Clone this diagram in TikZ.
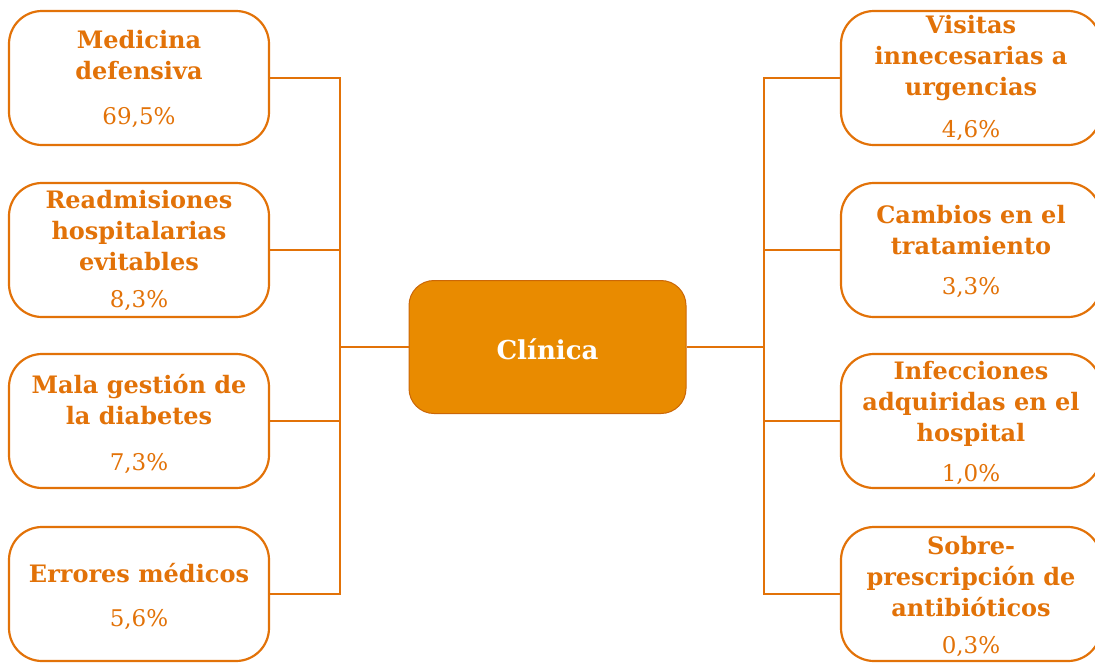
\documentclass[tikz,border=0pt]{standalone}
\usepackage{fontspec}
\setmainfont{DejaVu Serif}
\definecolor{org}{RGB}{226,114,8}
\definecolor{cfill}{RGB}{233,139,0}
\tikzset{
  box/.style={draw=org, line width=2.2pt, rounded corners=33pt, minimum width=260pt, minimum height=134pt, inner sep=0pt},
  ttl/.style={text=org, font=\fontsize{24}{31}\selectfont\bfseries, align=center, inner sep=0pt},
  pct/.style={text=org, font=\fontsize{23}{31}\selectfont, inner sep=0pt},
  conn/.style={draw=org, line width=1.4pt},
}
\begin{document}
\begin{tikzpicture}[x=1pt,y=-1pt]
\useasboundingbox (0,0) rectangle (1095,662);
% center
\node[draw=org!90!black, fill=cfill, line width=1pt, rounded corners=25pt, minimum width=277pt, minimum height=133pt] (C) at (547.5,347) {};
\node[text=white, font=\fontsize{26}{30}\selectfont\bfseries, inner sep=0pt] (Ct) at (547.5,349) {Clínica};
% left boxes
\node[box] (L1) at (139,78) {};
\node[box] (L2) at (139,250) {};
\node[box] (L3) at (139,421) {};
\node[box] (L4) at (139,594) {};
% right boxes
\node[box] (R1) at (971,78) {};
\node[box] (R2) at (971,250) {};
\node[box] (R3) at (971,421) {};
\node[box] (R4) at (971,594) {};
% texts left
\node[ttl] (L1t) at (139,55.5) {Medicina\\defensiva};
\node[pct] (L1p) at (139,118) {69,5\%};
\node[ttl] (L2t) at (139,231) {Readmisiones\\hospitalarias\\evitables};
\node[pct] (L2p) at (139,301) {8,3\%};
\node[ttl] (L3t) at (139,399.5) {Mala gestión de\\la diabetes};
\node[pct] (L3p) at (139,464) {7,3\%};
\node[ttl] (L4t) at (139,573) {Errores médicos};
\node[pct] (L4p) at (139,620) {5,6\%};
% texts right
\node[ttl] (R1t) at (971,58) {Visitas\\innecesarias a\\urgencias};
\node[pct] (R1p) at (971,131) {4,6\%};
\node[ttl] (R2t) at (971,230.5) {Cambios en el\\tratamiento};
\node[pct] (R2p) at (971,288) {3,3\%};
\node[ttl] (R3t) at (971,404) {Infecciones\\adquiridas en el\\hospital};
\node[pct] (R3p) at (971,475) {1,0\%};
\node[ttl] (R4t) at (971,577) {Sobre-\\prescripción de\\antibióticos};
\node[pct] (R4p) at (971,647) {0,3\%};
% connectors
\coordinate (lb) at (340,347);
\coordinate (rb) at (764,347);
\draw[conn] (L1.east) -| (lb);
\draw[conn] (L2.east) -| (lb);
\draw[conn] (L3.east) -| (lb);
\draw[conn] (L4.east) -| (lb);
\draw[conn] (lb) -- (C.west);
\draw[conn] (R1.west) -| (rb);
\draw[conn] (R2.west) -| (rb);
\draw[conn] (R3.west) -| (rb);
\draw[conn] (R4.west) -| (rb);
\draw[conn] (rb) -- (C.east);
\end{tikzpicture}
\end{document}
